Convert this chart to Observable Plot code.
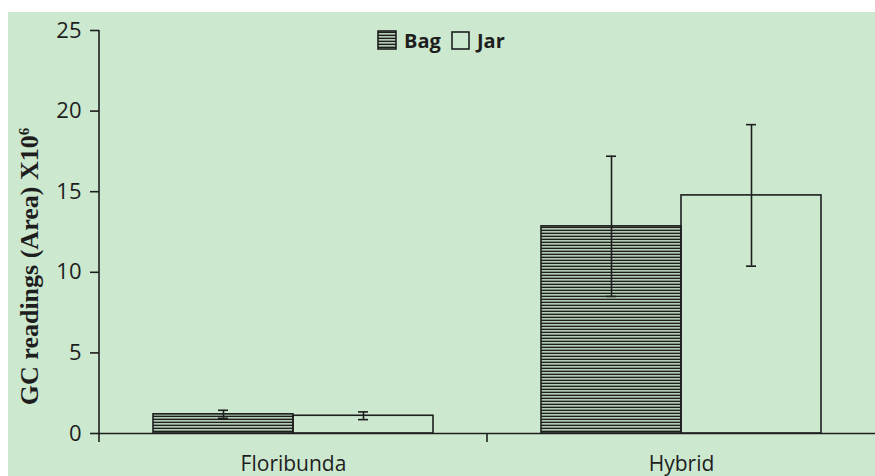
<!DOCTYPE html>
<html>
<head>
<meta charset="utf-8">
<script src="https://cdn.jsdelivr.net/npm/d3@7"></script>
<script src="https://cdn.jsdelivr.net/npm/@observablehq/plot@0.6"></script>
<style>
  html, body { margin: 0; padding: 0; background: #fff; }
  #wrap { position: relative; width: 875px; height: 476px; background: #fff; overflow: hidden; }
  #bg { position: absolute; left: 8px; top: 12px; right: 0; bottom: 0; background: #cce8cf; }
  #chart { position: absolute; left: 0; top: 0; }
</style>
</head>
<body>
<svg width="0" height="0" style="position:absolute">
  <defs>
    <pattern id="hatch" patternUnits="userSpaceOnUse" width="6" height="3">
      <rect width="6" height="3" fill="#b3cab4"></rect>
      <rect y="1" width="6" height="1" fill="#7f9480"></rect>
      <rect y="2" width="6" height="1" fill="#1e1e1e"></rect>
    </pattern>
  </defs>
</svg>
<div id="wrap"><div id="bg"></div><div id="chart"></div></div>
<script>
const categories = ["Floribunda", "Hybrid"];
const series = ["Bag", "Jar"];
const bagMeans = [1.19, 12.85];
const bagErrors = [0.25, 4.35];
const jarMeans = [1.10, 14.77];
const jarErrors = [0.24, 4.39];
const yTicks = [0, 5, 10, 15, 20, 25];
const yLabel = "GC readings (Area) X10";
const yLabelSup = "6";

const rows = [];
categories.forEach((c, i) => {
  rows.push({cat: c, series: "Bag", mean: bagMeans[i], err: bagErrors[i]});
  rows.push({cat: c, series: "Jar", mean: jarMeans[i], err: jarErrors[i]});
});
const bagRows = rows.filter(d => d.series === "Bag");
const jarRows = rows.filter(d => d.series === "Jar");

const ink = "#1e1e1e";

const plot = Plot.plot({
  width: 875,
  height: 476,
  marginLeft: 98,
  marginRight: 0,
  marginTop: 30,
  marginBottom: 43,
  style: {background: "transparent", fontFamily: "Open Sans", color: ink},
  fx: {domain: categories, padding: 0, label: null, axis: null},
  x: {domain: series, paddingInner: 0, paddingOuter: 0.378, axis: null},
  y: {domain: [0, 25], label: null, axis: null},
  marks: [
    Plot.barY(bagRows, {fx: "cat", x: "series", y: "mean", fill: "url(#hatch)", stroke: ink, strokeWidth: 1.6}),
    Plot.barY(jarRows, {fx: "cat", x: "series", y: "mean", fill: "none", stroke: ink, strokeWidth: 1.6}),
    Plot.ruleX(rows, {fx: "cat", x: "series", y1: d => d.mean - d.err, y2: d => d.mean + d.err, stroke: ink, strokeWidth: 1.6}),
    Plot.tickY(rows, {fx: "cat", x: "series", y: d => d.mean + d.err, insetLeft: 65, insetRight: 65, stroke: ink, strokeWidth: 1.6}),
    Plot.tickY(rows, {fx: "cat", x: "series", y: d => d.mean - d.err, insetLeft: 65, insetRight: 65, stroke: ink, strokeWidth: 1.6}),
    Plot.ruleY([0], {stroke: ink, strokeWidth: 1.6}),
    Plot.axisY({ticks: yTicks, tickSize: 9, tickPadding: 9, fontSize: 22, stroke: ink, strokeWidth: 1.6, fill: ink, label: null}),
    Plot.axisFx({anchor: "bottom", tickSize: 0, tickPadding: 23, fontSize: 21, fill: ink, label: null})
  ]
});

document.getElementById("chart").appendChild(plot);

// Excel-style axis lines from the library's own scales
const fx = plot.scale("fx");
const y = plot.scale("y");
const svg = d3.select(plot);
const y0 = y.apply(0);
const yTop = y.apply(yTicks[yTicks.length - 1]);
const tickLen = 9;
const g = svg.append("g").attr("stroke", ink).attr("stroke-width", 1.6);
categories.forEach((c, i) => {
  const x = fx.apply(c);
  g.append("line").attr("x1", x).attr("x2", x)
    .attr("y1", i === 0 ? yTop : y0).attr("y2", y0 + tickLen);
});

// y axis title
const t = svg.append("text")
  .attr("transform", `translate(38,${(yTop + y0) / 2 + 35}) rotate(-90)`)
  .attr("text-anchor", "middle")
  .attr("font-family", "Liberation Serif")
  .attr("font-weight", "bold")
  .attr("font-size", 26)
  .attr("fill", ink);
t.append("tspan").text(yLabel);
t.append("tspan").attr("font-size", 15).attr("dy", -9).text(yLabelSup);

// legend
const legend = svg.append("g").attr("font-family", "Open Sans").attr("font-weight", "bold")
  .attr("font-size", 20).attr("fill", ink).attr("text-anchor", "start");
const lx = 378, ly = 31;
legend.append("rect").attr("x", lx).attr("y", ly).attr("width", 18).attr("height", 18)
  .attr("fill", "url(#hatch)").attr("stroke", ink).attr("stroke-width", 1.6);
legend.append("text").attr("x", lx + 26).attr("y", ly + 17).text(series[0]);
legend.append("rect").attr("x", lx + 74).attr("y", ly + 1).attr("width", 17).attr("height", 17)
  .attr("fill", "none").attr("stroke", ink).attr("stroke-width", 1.6);
legend.append("text").attr("x", lx + 99).attr("y", ly + 17).text(series[1]);
</script>
</body>
</html>
